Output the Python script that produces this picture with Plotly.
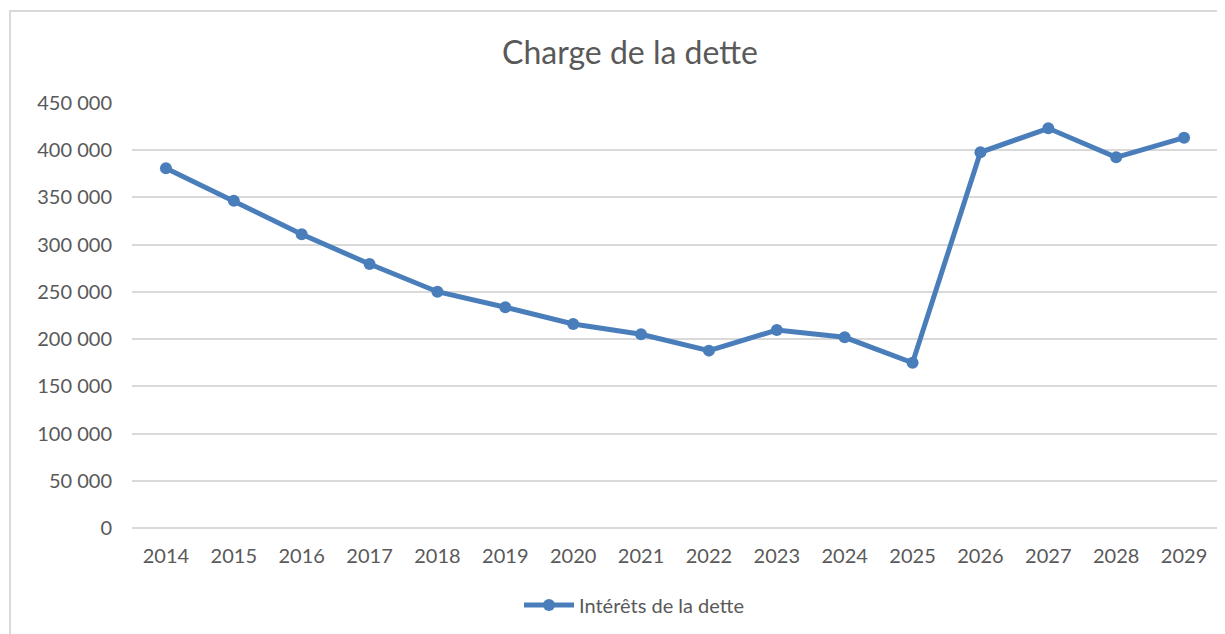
import plotly.graph_objects as go

years = ["2014", "2015", "2016", "2017", "2018", "2019", "2020", "2021",
         "2022", "2023", "2024", "2025", "2026", "2027", "2028", "2029"]
interets = [380900, 346600, 311000, 279500, 250200, 233700, 216000, 205100,
            187800, 209600, 201900, 175000, 397800, 423200, 392500, 413300]
y_ticks = [0, 50000, 100000, 150000, 200000, 250000, 300000, 350000, 400000, 450000]

BLUE = "#4A7EBB"
GREY = "#595959"
GRID = "#D9D9D9"
FONT = "Lato, Carlito, Calibri, sans-serif"

W, H = 1217, 626
L, T, PW, PH = 124, 95, 1086, 425

fig = go.Figure()
fig.add_trace(go.Scatter(
    x=years, y=interets, mode="lines+markers", name="Intérêts de la dette",
    line=dict(color=BLUE, width=5),
    marker=dict(color=BLUE, size=12),
))

fig.update_layout(
    width=W, height=H,
    margin=dict(l=L, r=W - L - PW, t=T, b=H - T - PH, pad=0),
    paper_bgcolor="white", plot_bgcolor="white",
    separators=", ",
    font=dict(family=FONT, color=GREY, size=20),
    title=dict(text="Charge de la dette", x=622 / W, xanchor="center",
               y=1 - 45 / H, yanchor="middle",
               font=dict(family=FONT, size=32, color=GREY)),
    showlegend=True,
    legend=dict(orientation="h", x=(626 - L) / PW, xanchor="center",
                y=(T + PH - 597) / PH, yanchor="middle", itemwidth=50,
                font=dict(family=FONT, size=20, color=GREY)),
    xaxis=dict(type="category", range=[-0.5, 15.5], showgrid=False, zeroline=False,
               showline=False, ticks="", ticklabelstandoff=14,
               tickfont=dict(family=FONT, size=20, color=GREY)),
    yaxis=dict(range=[0, 450000], tickvals=y_ticks, tickformat=",d",
               showgrid=True, gridcolor=GRID, gridwidth=1.5,
               zeroline=True, zerolinecolor=GRID, zerolinewidth=1.5,
               showline=False, ticks="", ticklabelstandoff=19,
               tickfont=dict(family=FONT, size=20, color=GREY)),
    shapes=[dict(type="rect", xref="paper", yref="paper",
                 x0=(2 - L) / PW, x1=1.05, y0=-0.4, y1=(T + PH - 3) / PH,
                 line=dict(color=GRID, width=2), fillcolor="rgba(0,0,0,0)",
                 layer="below")],
)

fig.write_html("out.html")
